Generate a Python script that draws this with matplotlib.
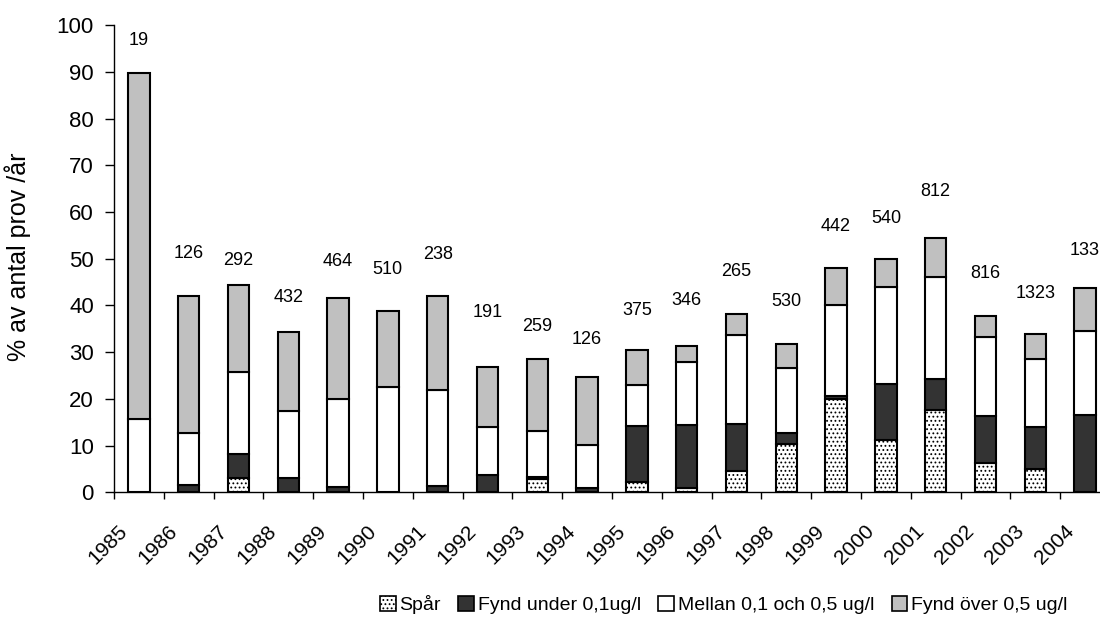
import numpy as np
import matplotlib
matplotlib.use("Agg")
import matplotlib.pyplot as plt
import matplotlib.transforms as mtransforms
from matplotlib.patches import Patch

# Andel prov per år (%), uppdelat på fyndkategori
years = [str(y) for y in range(1985, 2005)]
spar = [0, 0, 3.2, 0, 0, 0, 0, 0, 2.8, 0,
        2.3, 1.0, 4.7, 10.4, 20.1, 11.25, 17.7, 6.2, 5.0, 0]
under_01 = [0, 1.6, 5.0, 3.1, 1.2, 0.2, 1.4, 3.7, 0.6, 0.9,
            12.0, 13.4, 10.05, 2.35, 0.6, 11.95, 6.5, 10.2, 9.0, 16.5]
mellan = [15.8, 11.1, 17.5, 14.4, 18.9, 22.4, 20.5, 10.3, 9.7, 9.35,
          8.7, 13.6, 18.85, 13.85, 19.4, 20.7, 22.0, 16.8, 14.5, 18.1]
over_05 = [73.9, 29.4, 18.6, 16.9, 21.5, 16.3, 20.2, 12.75, 15.5, 14.45,
           7.5, 3.25, 4.65, 5.15, 8.0, 6.1, 8.2, 4.6, 5.5, 9.15]

# antal prov per år, och textrutornas höjd
n_prov = [19, 126, 292, 432, 464, 510, 238, 191, 259, 126,
          375, 346, 265, 530, 442, 540, 812, 816, 1323, 133]
label_y = [96.7, 51.1, 49.6, 41.8, 49.4, 47.7, 50.9, 38.4, 35.4, 32.7,
           38.9, 41.0, 47.2, 40.9, 57.0, 58.7, 64.3, 46.75, 42.5, 51.75]

plt.rcParams['font.family'] = ['Liberation Sans', 'DejaVu Sans']
plt.rcParams['hatch.linewidth'] = 0.8

fig = plt.figure(figsize=(11, 6.3), dpi=100)
ax = fig.add_axes([0.1036, 0.2183, 0.9055, 0.742])

x = np.arange(len(years))
w = 0.43
edge = dict(edgecolor='black', linewidth=1.5)

bottom = np.zeros(len(years))
series = [
    (spar, 'white', '....', 'Spår'),
    (under_01, '#333333', None, 'Fynd under 0,1ug/l'),
    (mellan, 'white', None, 'Mellan 0,1 och 0,5 ug/l'),
    (over_05, '#C0C0C0', None, 'Fynd över 0,5 ug/l'),
]
handles = []
for vals, col, hatch, name in series:
    vals = np.array(vals)
    ax.bar(x, vals, w, bottom=bottom, color=col, hatch=hatch, **edge)
    bottom += vals
    handles.append(Patch(facecolor=col, hatch=hatch, edgecolor='black',
                         linewidth=1.2, label=name))

for xi, n, ly in zip(x, n_prov, label_y):
    ax.text(xi, ly, str(n), ha='center', va='center', fontsize=13)

ax.set_xlim(-0.5, len(years) - 0.5)
ax.set_ylim(0, 100)
ax.set_yticks(np.arange(0, 101, 10))
ax.tick_params(axis='y', direction='out', length=6.5, width=1,
               labelsize=16, pad=8)
ax.set_ylabel('% av antal prov /år', fontsize=18)
ax.yaxis.set_label_coords(-0.083, 0.504)

# årtal snett under staplarna
ax.set_xticks(x)
ax.set_xticklabels(years, rotation=45, ha='center', va='center',
                   rotation_mode='anchor', fontsize=15)
ax.tick_params(axis='x', which='major', length=0, pad=0)
shift = mtransforms.ScaledTranslation(-0.31, -0.52, fig.dpi_scale_trans)
for lbl in ax.get_xticklabels():
    lbl.set_transform(lbl.get_transform() + shift)
ax.set_xticks(np.arange(-0.5, len(years), 1), minor=True)
ax.tick_params(axis='x', which='minor', direction='out', length=5, width=1)

for s in ['top', 'right']:
    ax.spines[s].set_visible(False)
for s in ['left', 'bottom']:
    ax.spines[s].set_linewidth(1)

fig.legend(handles=handles, loc='center', bbox_to_anchor=(0.658, 0.04),
           ncol=4, frameon=False, fontsize=14, handlelength=0.8,
           handleheight=0.8, handletextpad=0.2, columnspacing=0.9)

fig.savefig('out.png', dpi=100)
